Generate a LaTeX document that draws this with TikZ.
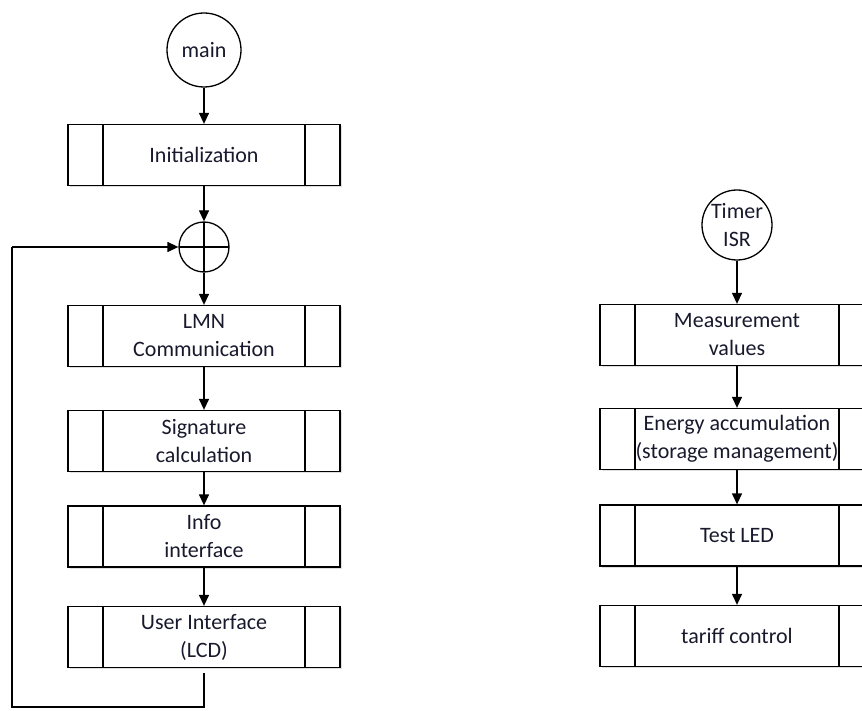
\documentclass[tikz,border=0pt]{standalone}
\usepackage{fontspec}
\setmainfont{Carlito}
\usetikzlibrary{arrows.meta,shadows}
\definecolor{txt}{RGB}{25,25,45}
\tikzset{
  lbl/.style={font=\fontsize{22}{28}\selectfont, text=txt, align=center},
  proc/.style={lbl, draw, line width=1.3pt, fill=white, inner sep=0pt,
    minimum width=#1, minimum height=61pt,
    drop shadow={opacity=0.25, shadow xshift=1.5pt, shadow yshift=-1.5pt},
    path picture={
      \draw[line width=1.3pt] ([xshift=35pt]path picture bounding box.north west) -- ([xshift=35pt]path picture bounding box.south west);
      \draw[line width=1.3pt] ([xshift=-35pt]path picture bounding box.north east) -- ([xshift=-35pt]path picture bounding box.south east);
    }},
  term/.style={lbl, draw, circle, line width=1.3pt, minimum size=#1, inner sep=0pt},
  junc/.style={draw, circle, line width=1.3pt, minimum size=50pt, inner sep=0pt,
    path picture={
      \draw[line width=1.3pt] (path picture bounding box.north) -- (path picture bounding box.south);
      \draw[line width=1.3pt] (path picture bounding box.west) -- (path picture bounding box.east);
    }},
  conn/.style={line width=1.3pt, -{Triangle[length=11pt,width=10pt]}},
  wire/.style={line width=1.3pt}
}
\begin{document}
\begin{tikzpicture}[x=1pt,y=-1pt]
\clip (0,0) rectangle (862,711);
\fill[white] (0,0) rectangle (862,711);
% left column
\node[term=74pt] (main) at (204,50) {main};
\node[proc=272pt] (init) at (204,155) {Initialization};
\node[junc] (plus) at (204,247) {};
\node[proc=272pt] (lmn) at (204,336) {LMN\\Communication};
\node[proc=272pt] (sig) at (204,441) {Signature\\calculation};
\node[proc=272pt] (info) at (204,536.5) {Info\\interface};
\node[proc=272pt] (ui) at (204,637) {User Interface\\(LCD)};
\coordinate (ld) at (204,707);
\coordinate (ll) at (12,707);
\coordinate (lu) at (12,247);
\draw[conn] (main) -- (init);
\draw[conn] (init) -- (plus);
\draw[conn] (plus) -- (lmn);
\draw[conn] (lmn) -- (sig);
\draw[conn] (sig) -- (info);
\draw[conn] (info) -- (ui);
\draw[wire] ([yshift=-5pt]ui.south) -- (ld) -- (ll) -- (lu);
\draw[conn] (lu) -- (plus.west);
% right column
\node[term=70pt] (timer) at (737,225) {Timer\\ISR};
\node[proc=274pt] (meas) at (737,335) {Measurement\\values};
\node[proc=274pt] (energy) at (737,439) {Energy accumulation\\(storage management)};
\node[proc=274pt] (led) at (737,535.5) {Test LED};
\node[proc=274pt] (tariff) at (737,636) {tariff control};
\draw[conn] (timer) -- (meas);
\draw[conn] (meas) -- (energy);
\draw[conn] (energy) -- (led);
\draw[conn] (led) -- (tariff);
\end{tikzpicture}
\end{document}
